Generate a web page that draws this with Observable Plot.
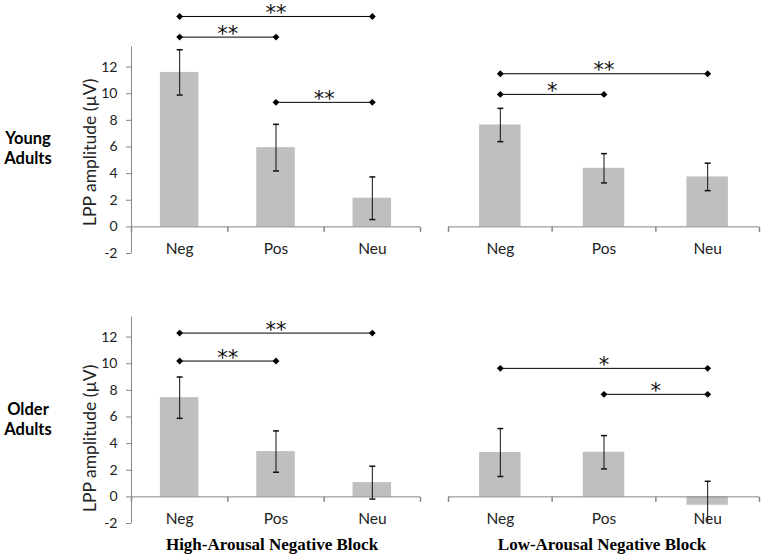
<!DOCTYPE html>
<html><head><meta charset="utf-8">
<script src="https://cdn.jsdelivr.net/npm/d3@7"></script>
<script src="https://cdn.jsdelivr.net/npm/@observablehq/plot@0.6"></script>
<style>
body{margin:0;background:#fff;}
#chart{position:relative;width:767px;height:559px;overflow:hidden;background:#fff;}
#chart svg{position:absolute;}
.rowlab{position:absolute;width:60px;text-align:center;font:bold 16.5px Lato, sans-serif;line-height:20px;color:#000;}
.blocklab{position:absolute;width:320px;text-align:center;font:bold 17px "Liberation Serif", serif;line-height:20px;color:#000;}
g[aria-label="stars"] text{letter-spacing:1.5px;}
</style></head><body><div id="chart"></div>
<script>
// ---- data ----
const categories = ["Neg", "Pos", "Neu"];
const groups = ["Young\nAdults", "Older\nAdults"];
const blocks = ["High-Arousal Negative Block", "Low-Arousal Negative Block"];
const yTicks = [-2, 0, 2, 4, 6, 8, 10, 12];
const yAxisMax = 13.5;
const yLabel = "LPP amplitude (µV)";

const youngHighMean = [11.6, 5.95, 2.15];
const youngHighErr  = [1.7, 1.75, 1.6];
const youngLowMean  = [7.65, 4.4, 3.75];
const youngLowErr   = [1.25, 1.1, 1.03];
const olderHighMean = [7.45, 3.4, 1.07];
const olderHighErr  = [1.55, 1.55, 1.23];
const olderLowMean  = [3.33, 3.35, -0.63];
const olderLowErr   = [1.8, 1.25, 1.8];

const youngHighSig = [["Neg", "Neu", 15.8, "**"], ["Neg", "Pos", 14.25, "**"], ["Pos", "Neu", 9.35, "**"]];
const youngLowSig  = [["Neg", "Neu", 11.5, "**"], ["Neg", "Pos", 9.95, "*"]];
const olderHighSig = [["Neg", "Neu", 12.3, "**"], ["Neg", "Pos", 10.2, "**"]];
const olderLowSig  = [["Neg", "Neu", 9.65, "*"], ["Pos", "Neu", 7.7, "*"]];

// ---- helpers ----
const capSymbol = {draw(ctx, size) { const r = Math.sqrt(size / Math.PI); ctx.moveTo(-r, 0); ctx.lineTo(r, 0); }};
const tickDown = {draw(ctx, size) { const r = Math.sqrt(size / Math.PI); ctx.moveTo(0, 0); ctx.lineTo(0, r); }};
const axisGray = "#868686";
const pos = c => categories.indexOf(c) + 0.5;

function panel({means, errs, sig, left, top, width, marginLeft, marginRight, showY, yLabelAt}) {
  const rows = categories.map((c, i) => ({c, i, m: means[i], e: errs[i]}));
  const caps = rows.flatMap(d => [{x: d.i + 0.5, y: d.m + d.e}, {x: d.i + 0.5, y: d.m - d.e}]);
  const sigRows = sig.map(([a, b, y, label]) => ({x1: pos(a), x2: pos(b), y, label}));
  const ends = sigRows.flatMap(d => [{x: d.x1, y: d.y}, {x: d.x2, y: d.y}]);
  const marks = [
    Plot.rectY(rows, {x1: d => d.i + 0.3, x2: d => d.i + 0.7, y: "m", fill: "#bfbfbf"}),
    Plot.ruleY([0], {x1: 0, x2: categories.length, stroke: axisGray}),
    Plot.dot(d3.range(categories.length + 1), {x: d => d, y: () => 0, symbol: tickDown, r: 5, stroke: axisGray, fill: "none"}),
    Plot.text(rows, {x: d => d.i + 0.5, y: () => yTicks[0], text: "c", dy: -4, fontSize: 15.5, fill: "#222"}),
    Plot.ruleX(rows, {x: d => d.i + 0.5, y1: d => d.m - d.e, y2: d => d.m + d.e, stroke: "#111", clip: true}),
    Plot.dot(caps, {x: "x", y: "y", symbol: capSymbol, r: 3, stroke: "#111", fill: "none", clip: true}),
    Plot.ruleY(sigRows, {x1: "x1", x2: "x2", y: "y", stroke: "#000"}),
    Plot.dot(ends, {x: "x", y: "y", symbol: "diamond2", r: 3.1, fill: "#000"}),
    Plot.text(sigRows, {x: d => (d.x1 + d.x2) / 2, y: "y", text: "label", dy: -3, fontSize: 21, fontFamily: "DejaVu Sans", fill: "#111", ariaLabel: "stars"})
  ];
  if (showY) {
    marks.push(
      Plot.ruleX([0], {y1: yTicks[0], y2: yAxisMax, stroke: axisGray}),
      Plot.axisY({ticks: yTicks, tickSize: 5, tickPadding: 9, label: null, stroke: axisGray, color: "#222", fontSize: 14, tickFormat: d => String(d)}),
      Plot.text([yLabel], {frameAnchor: "left", y: () => yLabelAt, text: d => d, rotate: -90, dx: -41, textAnchor: "middle", fontSize: 17.5, fill: "#222"})
    );
  }
  const svg = Plot.plot({
    width, height: 263, marginLeft, marginRight, marginTop: 0, marginBottom: 10,
    x: {domain: [0, categories.length], axis: null},
    y: {domain: [-2, 17], axis: showY ? undefined : null},
    style: {fontFamily: "Lato, sans-serif", background: "transparent", overflow: "visible"},
    marks
  });
  svg.style.left = left + "px";
  svg.style.top = top + "px";
  svg.style.maxWidth = "none";
  document.getElementById("chart").appendChild(svg);
}

panel({means: youngHighMean, errs: youngHighErr, sig: youngHighSig, left: 0, top: 0, width: 432, marginLeft: 131, marginRight: 12, showY: true, yLabelAt: 5.6});
panel({means: youngLowMean, errs: youngLowErr, sig: youngLowSig, left: 432, top: 0, width: 335, marginLeft: 16, marginRight: 8, showY: false});
panel({means: olderHighMean, errs: olderHighErr, sig: olderHighSig, left: 0, top: 270, width: 432, marginLeft: 131, marginRight: 12, showY: true, yLabelAt: 4.4});
panel({means: olderLowMean, errs: olderLowErr, sig: olderLowSig, left: 432, top: 270, width: 335, marginLeft: 16, marginRight: 8, showY: false});

const chart = document.getElementById("chart");
[[groups[0], 128], [groups[1], 399]].forEach(([t, top]) => {
  const d = document.createElement("div");
  d.className = "rowlab";
  d.style.left = "-2px"; d.style.top = top + "px";
  d.innerHTML = t.split("\n").join("<br>");
  chart.appendChild(d);
});
[[blocks[0], 112], [blocks[1], 442]].forEach(([t, left]) => {
  const d = document.createElement("div");
  d.className = "blocklab";
  d.style.left = left + "px"; d.style.top = "535px";
  d.textContent = t;
  chart.appendChild(d);
});
</script></body></html>
